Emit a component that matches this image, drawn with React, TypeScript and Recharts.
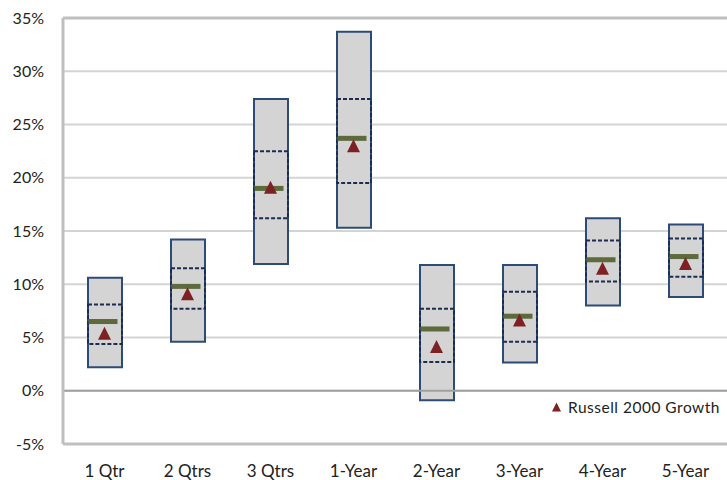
import React from "react";
import {
  ComposedChart,
  Bar,
  Scatter,
  XAxis,
  YAxis,
  CartesianGrid,
  ReferenceLine,
  Legend,
} from "recharts";

const categories = ["1 Qtr", "2 Qtrs", "3 Qtrs", "1-Year", "2-Year", "3-Year", "4-Year", "5-Year"];
const high = [10.6, 14.2, 27.4, 33.7, 11.8, 11.8, 16.2, 15.6];
const upper = [8.1, 11.5, 22.5, 27.4, 7.7, 9.3, 14.1, 14.3];
const median = [6.5, 9.8, 19.0, 23.7, 5.8, 7.0, 12.3, 12.6];
const lower = [4.4, 7.7, 16.2, 19.5, 2.7, 4.6, 10.25, 10.7];
const low = [2.2, 4.6, 11.9, 15.3, -0.9, 2.65, 8.0, 8.8];
const russell = [5.4, 9.1, 19.1, 23.0, 4.15, 6.65, 11.5, 11.95];
const yTicks = [-5, 0, 5, 10, 15, 20, 25, 30, 35];

const data = categories.map((name, i) => ({
  name,
  box: [low[i], high[i]],
  mid: [lower[i], upper[i]],
  median: median[i],
  russell: russell[i],
}));

const FONT = "Lato, 'Liberation Sans', sans-serif";
const BOX_W = 34;

const DashedBox = (props: any) => {
  const { x, y, width, height } = props;
  return (
    <rect
      x={x}
      y={y}
      width={width}
      height={height}
      fill="none"
      stroke="#1c2b50"
      strokeWidth={2}
      strokeDasharray="4 2"
    />
  );
};

const MedianMark = (props: any) => {
  const { cx, cy } = props;
  return <rect x={cx - BOX_W / 2 + 1} y={cy - 2.5} width={29} height={5} fill="#5c6a3c" />;
};

const Triangle = (props: any) => {
  const { cx, cy } = props;
  const w = 13;
  const h = 13;
  return (
    <polygon
      points={`${cx},${cy - h / 2} ${cx - w / 2},${cy + h / 2} ${cx + w / 2},${cy + h / 2}`}
      fill="#7e2125"
    />
  );
};

const renderLegend = (props: any) => {
  const items = (props.payload || []).filter((p: any) => p.value === "Russell 2000 Growth");
  return (
    <div style={{ display: "flex", alignItems: "center", fontFamily: FONT, fontSize: 15.5, color: "#222" }}>
      {items.map((p: any) => (
        <div key={p.value} style={{ display: "flex", alignItems: "center" }}>
          <svg width={10} height={10} style={{ marginRight: 6 }}>
            <polygon points="4.5,0.5 0,9.5 9,9.5" fill="#7e2125" />
          </svg>
          <span style={{ letterSpacing: 0.5 }}>{p.value}</span>
        </div>
      ))}
    </div>
  );
};

export default function App() {
  return (
    <div style={{ position: "absolute", left: 0, top: 0, background: "#fff" }}>
      <ComposedChart
        width={727}
        height={480}
        data={data}
        margin={{ top: 18, right: 0, bottom: 0, left: 0 }}
        barGap={-BOX_W}
      >
        <CartesianGrid horizontal vertical={false} stroke="#d4d4d4" strokeWidth={2} />
        <XAxis
          dataKey="name"
          height={36}
          tickLine={false}
          axisLine={{ stroke: "#bfbfbf", strokeWidth: 3 }}
          tickMargin={15}
          tick={{ fill: "#222", fontSize: 17, fontFamily: FONT }}
          interval={0}
        />
        <YAxis
          width={63}
          domain={[-5, 35]}
          ticks={yTicks}
          tickFormatter={(v) => `${v}%`}
          tickLine={false}
          axisLine={{ stroke: "#bfbfbf", strokeWidth: 3 }}
          tickMargin={13}
          tick={{ fill: "#222", fontSize: 16, fontFamily: FONT }}
          allowDataOverflow
        />
        <ReferenceLine y={0} stroke="#a0a0a0" strokeWidth={2} />
        <ReferenceLine y={35} stroke="#bfbfbf" strokeWidth={3} />
        <Bar
          dataKey="box"
          barSize={BOX_W}
          fill="#d4d4d4"
          stroke="#2c4b76"
          strokeWidth={2}
          legendType="none"
          isAnimationActive={false}
        />
        <Bar
          dataKey="mid"
          barSize={BOX_W}
          shape={DashedBox}
          legendType="none"
          isAnimationActive={false}
        />
        <Scatter dataKey="median" shape={MedianMark} legendType="none" isAnimationActive={false} />
        <Scatter
          name="Russell 2000 Growth"
          dataKey="russell"
          fill="#7e2125"
          shape={Triangle}
          isAnimationActive={false}
        />
        <Legend
          layout="horizontal"
          verticalAlign="middle"
          align="center"
          content={renderLegend}
          wrapperStyle={{ position: "absolute", left: 552, top: 398, width: 175 }}
        />
      </ComposedChart>
    </div>
  );
}
